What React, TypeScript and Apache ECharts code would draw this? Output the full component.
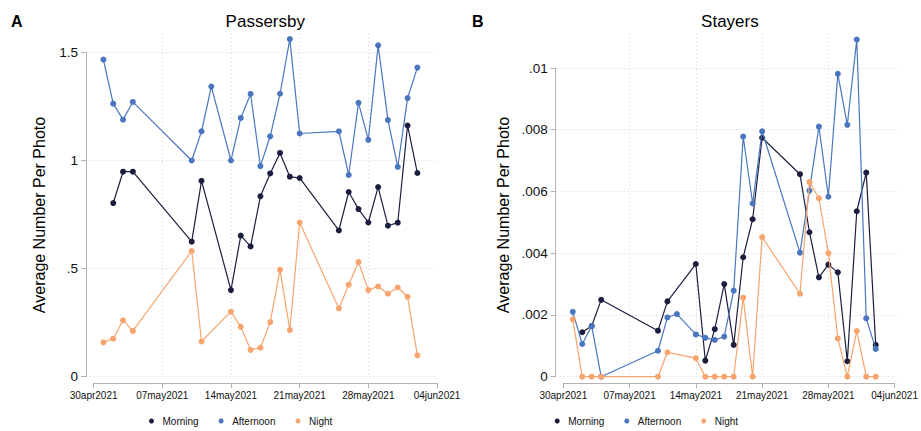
import React, { useEffect, useRef } from "react";
import * as echarts from "echarts";

const FONT = "'Liberation Sans', Arial, Helvetica, sans-serif";

const xTickLabels = ["30apr2021", "07may2021", "14may2021", "21may2021", "28may2021", "04jun2021"];
const seriesNames = ["Morning", "Afternoon", "Night"];
const seriesColors = ["#1c1e3f", "#4a76bf", "#f7a46e"];

const datesMorning = [
  "2021-05-02", "2021-05-03", "2021-05-04", "2021-05-10", "2021-05-11", "2021-05-14", "2021-05-15",
  "2021-05-16", "2021-05-17", "2021-05-18", "2021-05-19", "2021-05-20", "2021-05-21", "2021-05-25",
  "2021-05-26", "2021-05-27", "2021-05-28", "2021-05-29", "2021-05-30", "2021-05-31", "2021-06-01",
  "2021-06-02",
];
const datesAfternoon = [
  "2021-05-01", "2021-05-02", "2021-05-03", "2021-05-04", "2021-05-10", "2021-05-11", "2021-05-12",
  "2021-05-14", "2021-05-15", "2021-05-16", "2021-05-17", "2021-05-18", "2021-05-19", "2021-05-20",
  "2021-05-21", "2021-05-25", "2021-05-26", "2021-05-27", "2021-05-28", "2021-05-29", "2021-05-30",
  "2021-05-31", "2021-06-01", "2021-06-02",
];
const datesNight = [
  "2021-05-01", "2021-05-02", "2021-05-03", "2021-05-04", "2021-05-10", "2021-05-11", "2021-05-14",
  "2021-05-15", "2021-05-16", "2021-05-17", "2021-05-18", "2021-05-19", "2021-05-20", "2021-05-21",
  "2021-05-25", "2021-05-26", "2021-05-27", "2021-05-28", "2021-05-29", "2021-05-30", "2021-05-31",
  "2021-06-01", "2021-06-02",
];

// Panel A: Passersby
const passMorning = [0.804, 0.949, 0.949, 0.625, 0.907, 0.401, 0.653, 0.603, 0.835, 0.941, 1.036, 0.926, 0.92, 0.677, 0.855, 0.776, 0.714, 0.878, 0.699, 0.713, 1.163, 0.943];
const passAfternoon = [1.468, 1.264, 1.19, 1.272, 1.001, 1.136, 1.343, 1.001, 1.198, 1.309, 0.975, 1.113, 1.31, 1.563, 1.126, 1.136, 0.934, 1.268, 1.096, 1.534, 1.188, 0.971, 1.29, 1.431];
const passNight = [0.159, 0.176, 0.261, 0.212, 0.582, 0.163, 0.301, 0.231, 0.124, 0.134, 0.253, 0.495, 0.216, 0.714, 0.316, 0.426, 0.531, 0.401, 0.418, 0.384, 0.413, 0.37, 0.099];

// Panel B: Stayers
const stayMorning = [0.00144, 0.00164, 0.00249, 0.00149, 0.00244, 0.00365, 0.00052, 0.00154, 0.003, 0.00103, 0.00387, 0.0051, 0.00774, 0.00656, 0.00468, 0.00322, 0.00363, 0.00338, 0.0005, 0.00536, 0.00661, 0.00103];
const stayAfternoon = [0.0021, 0.00106, 0.00164, 0, 0.00084, 0.00192, 0.00203, 0.00137, 0.00126, 0.00119, 0.0013, 0.00279, 0.00778, 0.00561, 0.00795, 0.00402, 0.00603, 0.0081, 0.00583, 0.00981, 0.00816, 0.01092, 0.00189, 0.0009];
const stayNight = [0.00186, 0, 0, 0, 0, 0.00079, 0.0006, 0, 0, 0, 0, 0.00256, 0, 0.00452, 0.00269, 0.00631, 0.00578, 0.004, 0.00124, 0, 0.00148, 0, 0];

const START = Date.UTC(2021, 3, 30);
const dayOf = (s: string) => {
  const [y, m, d] = s.split("-").map(Number);
  return Math.round((Date.UTC(y, m - 1, d) - START) / 86400000);
};
const pairs = (dates: string[], vals: number[]) => dates.map((d, i) => [dayOf(d), vals[i]]);

const fmtY = (v: number) => {
  if (Math.abs(v) < 1e-12) return "0";
  const s = String(parseFloat(v.toFixed(5)));
  return s.replace(/^0\./, ".");
};

const AXIS_COLOR = "#b3b3b3";
const GRID_COLOR = "#d4d4d4";

export default function App() {
  const ref = useRef<HTMLDivElement>(null);
  useEffect(() => {
    if (!ref.current) return;
    const chart = echarts.init(ref.current, null, { renderer: "svg" });

    const A = { left: 93.6, right: 437, top: 33, bottom: 376.7, axisX: 86, tickTop: 52.7, yMax: 1.5, yInt: 0.5 };
    const B = { left: 563.3, right: 896.5, top: 33, bottom: 376.7, axisX: 555.7, tickTop: 68, yMax: 0.01, yInt: 0.002 };

    const xVisible = (gridIndex: number) => ({
      type: "value",
      gridIndex,
      min: 0,
      max: 35,
      interval: 7,
      position: "bottom",
      offset: 6.6,
      axisLine: { show: true, onZero: false, lineStyle: { color: AXIS_COLOR, width: 1 } },
      axisTick: { show: true, length: 5, lineStyle: { color: AXIS_COLOR, width: 1 } },
      axisLabel: {
        formatter: (v: number) => xTickLabels[Math.round(v / 7)] ?? "",
        fontSize: 10,
        fontFamily: FONT,
        color: "#111",
        margin: 7,
      },
      splitLine: {
        show: true,
        showMinLine: false,
        showMaxLine: false,
        lineStyle: { color: GRID_COLOR, width: 1, type: [1, 3] },
      },
    });
    const xHidden = (gridIndex: number) => ({ type: "value", gridIndex, min: 0, max: 1, show: false });

    const yData = (gridIndex: number, P: any) => ({
      type: "value",
      gridIndex,
      min: 0,
      max: (P.yMax * (P.bottom - P.top)) / (P.bottom - P.tickTop),
      show: false,
    });
    const yVisible = (gridIndex: number, P: any) => ({
      type: "value",
      gridIndex,
      min: 0,
      max: P.yMax,
      interval: P.yInt,
      axisLine: { show: true, onZero: false, lineStyle: { color: AXIS_COLOR, width: 1 } },
      axisTick: { show: true, length: 5, lineStyle: { color: AXIS_COLOR, width: 1 } },
      axisLabel: { formatter: fmtY, fontSize: 13.5, fontFamily: FONT, color: "#111", margin: 8 },
      splitLine: { show: true, lineStyle: { color: GRID_COLOR, width: 1, type: [1, 3] } },
    });

    const grids = [
      { left: A.left, top: A.top, width: A.right - A.left, height: A.bottom - A.top },
      { left: A.axisX, top: A.tickTop, width: A.right - A.axisX, height: A.bottom - A.tickTop },
      { left: B.left, top: B.top, width: B.right - B.left, height: B.bottom - B.top },
      { left: B.axisX, top: B.tickTop, width: B.right - B.axisX, height: B.bottom - B.tickTop },
    ];

    const mk = (name: string, idx: number, data: number[][], axis: number) => ({
      type: "line",
      name,
      xAxisIndex: axis,
      yAxisIndex: axis,
      data,
      symbol: "circle",
      symbolSize: 6,
      showSymbol: true,
      color: seriesColors[idx],
      itemStyle: { color: seriesColors[idx] },
      lineStyle: { color: seriesColors[idx], width: 1.2 },
      emphasis: { disabled: true },
      clip: false,
      z: 2 + idx,
    });

    const legendBase = {
      data: seriesNames,
      icon: "circle",
      itemWidth: 12,
      itemHeight: 5,
      itemGap: 20,
      padding: 0,
      top: 416,
      selectedMode: false,
      textStyle: { fontSize: 10, fontFamily: FONT, color: "#111" },
    };

    const option: any = {
      animation: false,
      backgroundColor: "#ffffff",
      grid: grids,
      xAxis: [xVisible(0), xHidden(1), xVisible(2), xHidden(3)],
      yAxis: [yData(0, A), yVisible(1, A), yData(2, B), yVisible(3, B)],
      legend: [
        { ...legendBase, left: 149 },
        { ...legendBase, left: 554.7 },
      ],
      series: [
        mk("Morning", 0, pairs(datesMorning, passMorning), 0),
        mk("Afternoon", 1, pairs(datesAfternoon, passAfternoon), 0),
        mk("Night", 2, pairs(datesNight, passNight), 0),
        mk("Morning", 0, pairs(datesMorning, stayMorning), 2),
        mk("Afternoon", 1, pairs(datesAfternoon, stayAfternoon), 2),
        mk("Night", 2, pairs(datesNight, stayNight), 2),
      ],
      graphic: [
        { type: "text", left: 11, top: 13, style: { text: "A", font: `bold 16px ${FONT}`, fill: "#000" } },
        { type: "text", left: 472, top: 13, style: { text: "B", font: `bold 16px ${FONT}`, fill: "#000" } },
        {
          type: "text",
          x: (A.left + A.right) / 2,
          y: 21.5,
          style: { text: "Passersby", font: `17px ${FONT}`, fill: "#000", textAlign: "center", textVerticalAlign: "middle" },
        },
        {
          type: "text",
          x: (B.left + B.right) / 2,
          y: 21.5,
          style: { text: "Stayers", font: `17px ${FONT}`, fill: "#000", textAlign: "center", textVerticalAlign: "middle" },
        },
        {
          type: "text",
          x: 39.5,
          y: 215,
          rotation: Math.PI / 2,
          style: { text: "Average Number Per Photo", font: `16px ${FONT}`, fill: "#000", textAlign: "center", textVerticalAlign: "middle" },
        },
        {
          type: "text",
          x: 503,
          y: 215,
          rotation: Math.PI / 2,
          style: { text: "Average Number Per Photo", font: `16px ${FONT}`, fill: "#000", textAlign: "center", textVerticalAlign: "middle" },
        },
      ],
    };
    chart.setOption(option);
    return () => chart.dispose();
  }, []);

  return (
    <div
      ref={ref}
      style={{ position: "fixed", left: 0, top: 0, width: 921, height: 431, background: "#fff" }}
    />
  );
}
